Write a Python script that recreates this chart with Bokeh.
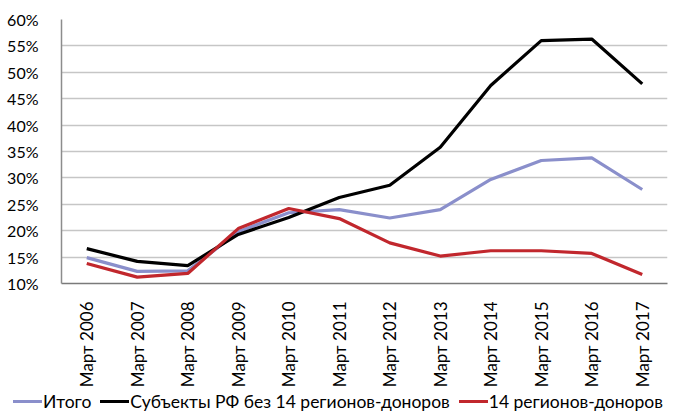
from bokeh.plotting import figure
from bokeh.layouts import column
from bokeh.models import FactorRange, Range1d, FixedTicker, CustomJSTickFormatter, Div
from bokeh.embed import file_html
from bokeh.resources import INLINE
import math

categories = ["Март 2006", "Март 2007", "Март 2008", "Март 2009", "Март 2010", "Март 2011",
              "Март 2012", "Март 2013", "Март 2014", "Март 2015", "Март 2016", "Март 2017"]
itogo = [14.9, 12.3, 12.4, 19.8, 23.4, 24.0, 22.4, 24.0, 29.7, 33.3, 33.8, 27.8]
subjects = [16.6, 14.2, 13.4, 19.3, 22.5, 26.3, 28.6, 35.8, 47.5, 56.0, 56.3, 47.8]
donors = [13.8, 11.2, 11.9, 20.4, 24.2, 22.3, 17.7, 15.2, 16.2, 16.2, 15.7, 11.7]
y_ticks = [10, 15, 20, 25, 30, 35, 40, 45, 50, 55, 60]

names = ["Итого", "Субъекты РФ без 14 регионов-доноров", "14 регионов-доноров"]
colors = ["#8a8fcb", "#000000", "#c1272d"]
series = [itogo, subjects, donors]

p = figure(width=671, height=390, x_range=FactorRange(*categories, range_padding=0),
           y_range=Range1d(10, 60), output_backend="svg", toolbar_location=None,
           min_border_left=61, min_border_right=4, min_border_top=19, min_border_bottom=107)
p.outline_line_color = None
p.xgrid.grid_line_color = None
p.ygrid.grid_line_color = "#c6c6c6"
p.ygrid.grid_line_width = 1.5
p.yaxis.ticker = FixedTicker(ticks=y_ticks)
p.yaxis.formatter = CustomJSTickFormatter(code="return tick.toFixed(0) + '%';")
for ax in (p.xaxis, p.yaxis):
    ax.major_tick_line_color = None
    ax.minor_tick_line_color = None
    ax.major_label_text_font = "Lato"
    ax.major_label_text_color = "#000000"
p.xaxis.major_label_text_font_size = "17px"
p.yaxis.major_label_text_font_size = "16px"
p.yaxis.axis_line_color = "#8c8c8c"
p.yaxis.axis_line_width = 1.5
p.xaxis.axis_line_color = "#7a7a7a"
p.xaxis.axis_line_width = 1.5
p.yaxis.major_label_standoff = 17
p.xaxis.major_label_orientation = math.pi / 2
p.xaxis.major_label_standoff = 12

for vals, c in zip(series, colors):
    p.line(categories, vals, line_color=c, line_width=3.2)

# legend strip (HTML, below the rotated category labels)
parts = []
for i, (n, c) in enumerate(zip(names, colors)):
    ml = "13px" if i == 0 else "9px"
    parts.append(
        f'<span style="display:inline-block;width:29px;height:3px;background:{c};'
        f'vertical-align:middle;margin-left:{ml};margin-right:1px"></span>'
        f'<span style="vertical-align:middle">{n}</span>')
lg = Div(text="".join(parts), width=677, height=20,
         styles={"font-family": "Lato", "font-size": "17.5px", "line-height": "20px",
                 "white-space": "nowrap", "color": "#000000", "margin": "0", "padding": "0"})

open("out.html", "w").write(file_html(column(p, lg, spacing=0), INLINE))
